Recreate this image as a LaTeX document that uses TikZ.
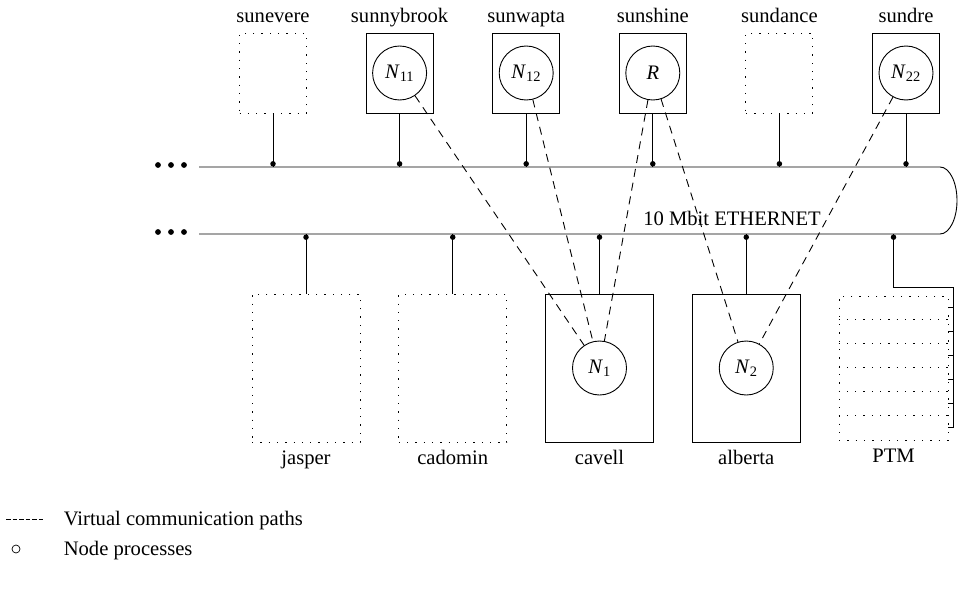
\documentclass[tikz,border=0pt]{standalone}
\usepackage{fontspec}
\setmainfont{Liberation Serif}
\usetikzlibrary{positioning}

\begin{document}
\begin{tikzpicture}[x=1pt, y=-1pt, line width=0.9pt,
  font=\fontsize{20.6}{24}\selectfont,
  host/.style={draw, minimum width=67pt, minimum height=80pt, inner sep=0pt},
  station/.style={draw, minimum width=108pt, minimum height=148pt, inner sep=0pt},
  idle/.style={dash pattern=on 1.3pt off 7pt},
  proc/.style={draw, circle, minimum size=54pt, inner sep=0pt},
  hostname/.style={inner sep=0pt, text height=14pt, text depth=5pt},
  tap/.style={circle, fill, inner sep=0pt, minimum size=5.5pt},
  vpath/.style={dash pattern=on 8pt off 6pt}]
\useasboundingbox (0,0) rectangle (958,589);

% the ethernet
\coordinate (bustop) at (199,167);
\coordinate (busbot) at (199,234);
\draw (bustop) -- (940,167) arc[start angle=-90, end angle=90, x radius=17, y radius=33.5] -- (busbot);
\foreach \d in {158,171,184} {
  \fill (\d,165) circle (2.9);
  \fill (\d,232) circle (2.9);
}
\node (ether) at (732,218) {10 Mbit ETHERNET};

% upper hosts
\node[host, idle] (sunevere) at (273,73) {};
\node[host, right=58.7pt of sunevere] (sunnybrook) {};
\node[host, right=58.7pt of sunnybrook] (sunwapta) {};
\node[host, right=58.7pt of sunwapta] (sunshine) {};
\node[host, idle, right=58.7pt of sunshine] (sundance) {};
\node[host, right=58.7pt of sundance] (sundre) {};
\foreach \h in {sunevere,sunnybrook,sunwapta,sunshine,sundance,sundre} {
  \node[hostname, above=5pt of \h] {\h};
  \draw (\h.south) -- (\h.south |- bustop) node[tap, anchor=south] {};
}

% lower hosts
\node[station, idle] (jasper) at (306,368) {};
\node[station, idle, right=37.85pt of jasper] (cadomin) {};
\node[station, right=37.85pt of cadomin] (cavell) {};
\node[station, right=37.85pt of cavell] (alberta) {};
\node[station, idle, minimum width=109pt, minimum height=144pt, right=37.85pt of alberta] (ptm) {};
\foreach \h in {jasper,cadomin,cavell,alberta} {
  \node[hostname, below=8pt of \h] {\h};
  \draw (\h.north) -- (\h.north |- busbot) node[tap, anchor=north] {};
}
\node[hostname, below=8pt of ptm] {PTM};

% PTM slots
\foreach \k in {1,...,5}
  \draw[idle] ([yshift=-24*\k pt]ptm.north west) -- ([yshift=-24*\k pt]ptm.north east);
\coordinate (ptmin) at ([shift={(5,-12)}]ptm.south east);
\draw (ptm.north |- busbot) node[tap, anchor=north] {} -- ++(0,53) -| (ptmin);
\foreach \k in {0,...,5}
  \draw ([shift={(0,12+24*\k)}]ptm.north east) -- ++(5,0);

% node processes
\node[proc] (n11) at (sunnybrook) {\textit{N}\textsubscript{11}};
\node[proc] (n12) at (sunwapta) {\textit{N}\textsubscript{12}};
\node[proc] (r) at (sunshine) {\textit{R}};
\node[proc] (n22) at (sundre) {\textit{N}\textsubscript{22}};
\node[proc] (n1) at (cavell) {\textit{N}\textsubscript{1}};
\node[proc] (n2) at (alberta) {\textit{N}\textsubscript{2}};

% virtual communication paths
\draw[vpath] (n11) -- (n1);
\draw[vpath] (n12) -- (n1);
\draw[vpath] (r) -- (n1);
\draw[vpath] (r) -- (n2);
\draw[vpath] (n22) -- (n2);

% legend
\coordinate (keya) at (6,519);
\coordinate (keyb) at (45,519);
\draw[dash pattern=on 4.5pt off 2pt] (keya) -- (keyb);
\node[anchor=base west] (keypath) at (60,525) {Virtual communication paths};
\draw[line width=0.7pt] (16,549) circle (4);
\node[anchor=base west] (keyproc) at (60,555) {Node processes};
\end{tikzpicture}
\end{document}
